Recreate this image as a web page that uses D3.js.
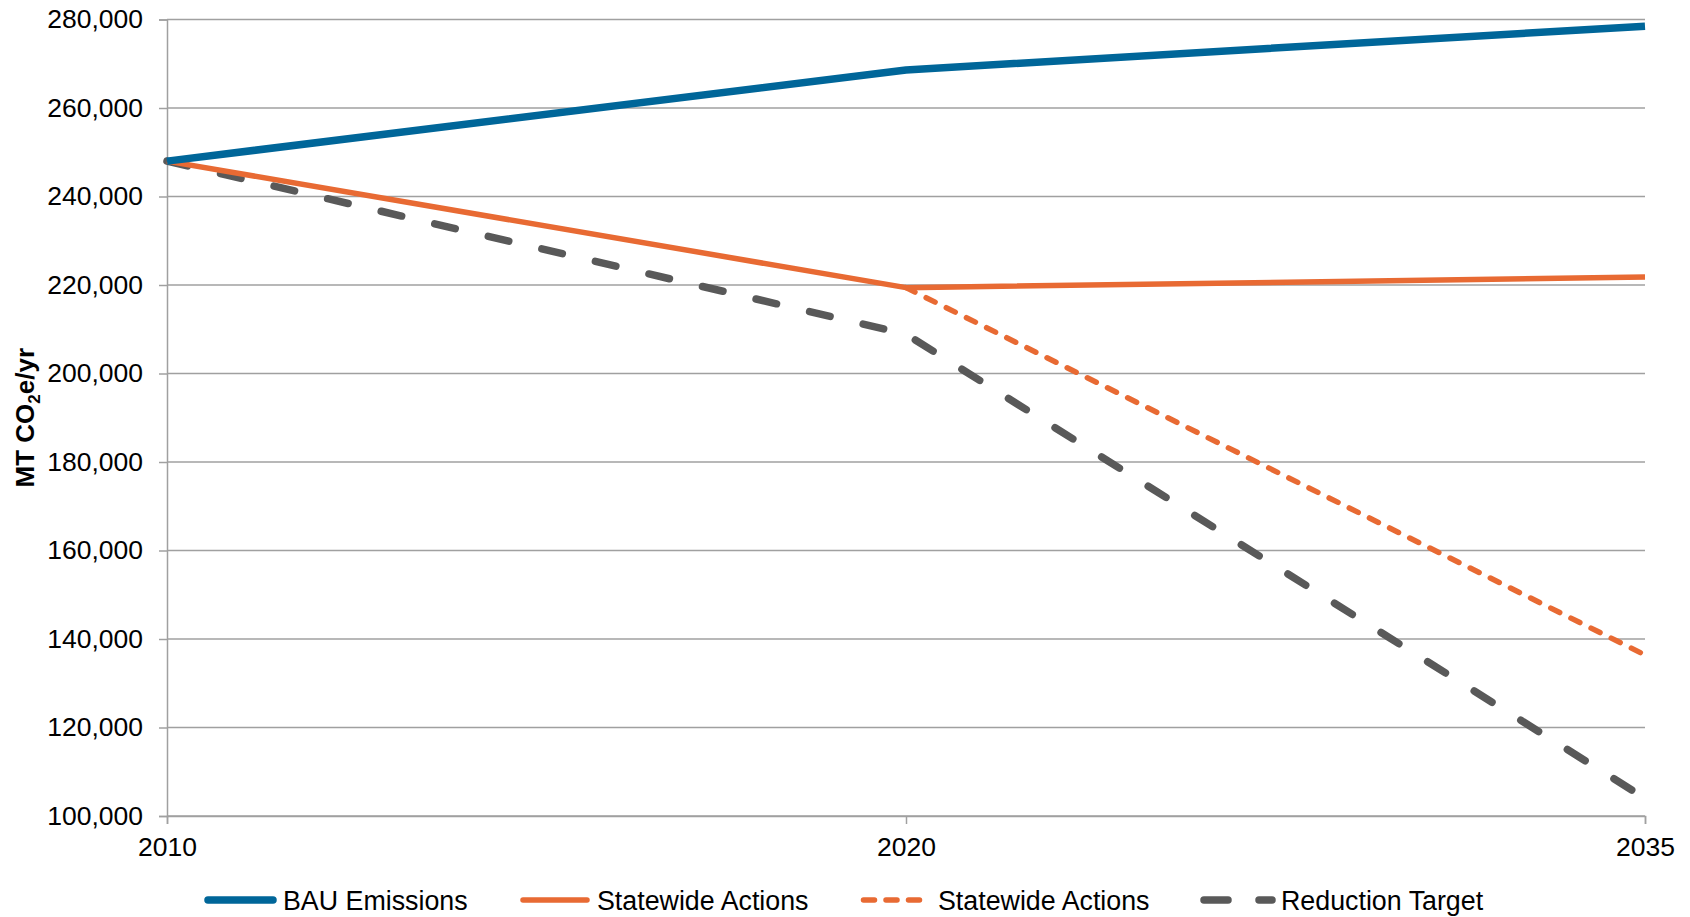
<!DOCTYPE html>
<html>
<head>
<meta charset="utf-8">
<script src="https://cdn.jsdelivr.net/npm/d3@7"></script>
<style>
  html, body { margin: 0; padding: 0; background: #fff; }
  svg { display: block; font-family: "Liberation Sans", Arial, sans-serif; }
</style>
</head>
<body>
<svg id="chart" width="1690" height="917"></svg>
<script>
// Emissions scenarios, MT CO2e per year
const years = ["2010", "2020", "2035"];
const bauEmissions = [248000, 268600, 278500];
const statewideActions = [248000, 219400, 221800];
const statewideYears = ["2020", "2035"];
const statewideActionsDashed = [219400, 136400];
const reductionTarget = [248000, 208900, 104000];
const yTicks = [100000, 120000, 140000, 160000, 180000, 200000, 220000, 240000, 260000, 280000];

const legendItems = [
  { label: "BAU Emissions", color: "#006699", width: 7.5, dash: null },
  { label: "Statewide Actions", color: "#E86A33", width: 5.5, dash: null },
  { label: "Statewide Actions", color: "#E86A33", width: 5.5, dash: "10,12.5" },
  { label: "Reduction Target", color: "#595959", width: 7.5, dash: "21,34" }
];

const svg = d3.select("#chart");
const margin = { left: 167, top: 19.5, right: 45, bottom: 101 };
const W = 1690, H = 917;
const x = d3.scalePoint().domain(years).range([margin.left, W - margin.right]);
const y = d3.scaleLinear().domain([100000, 280000]).range([H - margin.bottom, margin.top]);

const gridColor = "#A0A0A0";
const fontSize = 26.5;

// horizontal gridlines
svg.append("g").selectAll("line").data(yTicks).join("line")
  .attr("x1", margin.left).attr("x2", W - margin.right)
  .attr("y1", d => y(d)).attr("y2", d => y(d))
  .attr("stroke", gridColor).attr("stroke-width", 1.5);

// y axis
const yAxis = svg.append("g").attr("transform", `translate(${margin.left},0)`)
  .call(d3.axisLeft(y).tickValues(yTicks).tickSize(8).tickPadding(16).tickFormat(d3.format(",")));
yAxis.select(".domain").attr("stroke", gridColor).attr("stroke-width", 1.5);
yAxis.selectAll(".tick line").attr("stroke", gridColor).attr("stroke-width", 1.5);
yAxis.selectAll("text").attr("font-size", fontSize).attr("fill", "#000")
  .attr("font-family", "Liberation Sans, Arial, sans-serif");

// x axis
const xAxis = svg.append("g").attr("transform", `translate(0,${y(100000)})`)
  .call(d3.axisBottom(x).tickSize(8).tickPadding(13));
xAxis.select(".domain").attr("stroke", gridColor).attr("stroke-width", 1.5);
xAxis.selectAll(".tick line").attr("stroke", gridColor).attr("stroke-width", 1.5);
xAxis.selectAll("text").attr("font-size", fontSize).attr("fill", "#000")
  .attr("font-family", "Liberation Sans, Arial, sans-serif");

// y axis title
const title = svg.append("text")
  .attr("transform", `translate(34,${(y(100000) + y(280000)) / 2}) rotate(-90)`)
  .attr("text-anchor", "middle")
  .attr("font-size", 26).attr("font-weight", "bold").attr("fill", "#000");
title.append("tspan").text("MT CO");
title.append("tspan").attr("font-size", 17).attr("dy", 6).text("2");
title.append("tspan").attr("dy", -6).text("e/yr");

// series lines
const line = d3.line().x(d => x(d[0])).y(d => y(d[1]));
function drawSeries(xs, vals, item) {
  const p = svg.append("path")
    .datum(xs.map((k, i) => [k, vals[i]]))
    .attr("d", line)
    .attr("fill", "none")
    .attr("stroke", item.color)
    .attr("stroke-width", item.width)
    .attr("stroke-linejoin", "round");
  if (item.dash) p.attr("stroke-dasharray", item.dash).attr("stroke-linecap", "round");
}
drawSeries(statewideYears, statewideActionsDashed, legendItems[2]);
drawSeries(years, reductionTarget, legendItems[3]);
drawSeries(years, statewideActions, legendItems[1]);
drawSeries(years, bauEmissions, legendItems[0]);

// legend: swatch start/end and dash pattern per entry
const swatchX1 = [208, 523, 863.5, 1204];
const swatchX2 = [273, 587, 919.5, 1272];
const swatchDash = [null, null, "11,11.5", "24,31"];
const textX = [283, 597, 938, 1281];
const legendY = 900;
legendItems.forEach((it, i) => {
  const g = svg.append("g");
  const ln = g.append("line")
    .attr("x1", swatchX1[i]).attr("x2", swatchX2[i])
    .attr("y1", legendY).attr("y2", legendY)
    .attr("stroke", it.color).attr("stroke-width", it.width)
    .attr("stroke-linecap", "round");
  if (swatchDash[i]) ln.attr("stroke-dasharray", swatchDash[i]);
  g.append("text")
    .attr("x", textX[i]).attr("y", 910)
    .attr("font-size", 26.8).attr("fill", "#000")
    .text(it.label);
});
</script>
</body>
</html>
